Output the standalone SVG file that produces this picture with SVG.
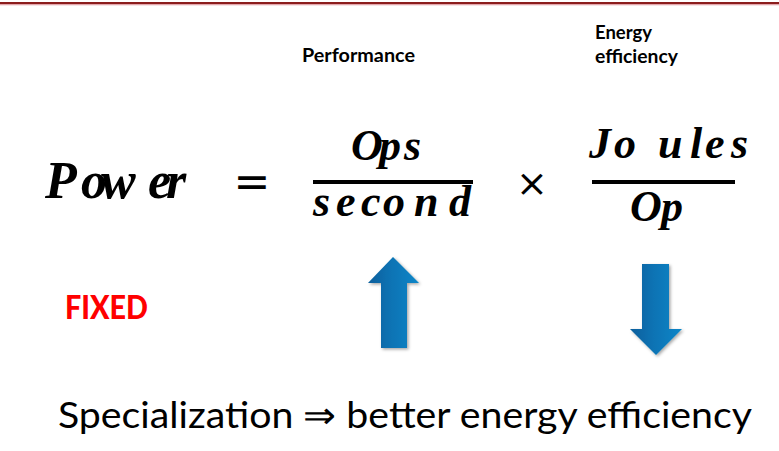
<svg xmlns="http://www.w3.org/2000/svg" width="779" height="451" viewBox="0 0 779 451">
  <style>
    .math { font-family: "Liberation Serif", "Times New Roman", serif; font-weight: bold; font-style: italic; fill: #000; }
    .sym { font-family: "DejaVu Sans", sans-serif; fill: #000; }
    .label { font-family: Lato, "Liberation Sans", sans-serif; font-weight: bold; fill: #000; }
    .bar { fill: #000; }
    .arrow { fill: url(#blueGrad); filter: url(#soft); }
  </style>
  <defs>
    <linearGradient id="blueGrad" x1="0" y1="0" x2="1" y2="0">
      <stop offset="0" stop-color="#0a5f9c"/>
      <stop offset="0.45" stop-color="#0873b4"/>
      <stop offset="1" stop-color="#0a86c8"/>
    </linearGradient>
    <filter id="soft" x="-30%" y="-20%" width="160%" height="140%">
      <feDropShadow dx="1.5" dy="1.5" stdDeviation="1.5" flood-color="#000" flood-opacity="0.35"/>
    </filter>
  </defs>

  <rect width="779" height="451" fill="#fff"/>

  <!-- header rule -->
  <g id="header-rule">
    <rect x="0" y="2" width="779" height="2" fill="#8c1d1d"/>
    <rect x="0" y="4" width="779" height="1.3" fill="#e2a7ad"/>
  </g>

  <!-- captions above the fractions -->
  <g id="caption-performance">
    <text class="label" x="302" y="62" font-size="18" textLength="113" lengthAdjust="spacingAndGlyphs">Performance</text>
  </g>
  <g id="caption-efficiency">
    <text class="label" x="595" y="39" font-size="18" textLength="57" lengthAdjust="spacingAndGlyphs">Energy</text>
    <text class="label" x="595" y="63" font-size="18" textLength="83" lengthAdjust="spacingAndGlyphs">efficiency</text>
  </g>

  <!-- equation: Power = Ops/second x Joules/Op -->
  <g id="lhs-power">
    <text class="math" font-size="52" y="198" x="45 81 101 148 166">Power</text>
  </g>
  <g id="equals">
    <text class="sym" x="252" y="197" font-size="44" text-anchor="middle">=</text>
  </g>
  <g id="fraction-performance">
    <text class="math" font-size="44" y="160" x="351 379 404">Ops</text>
    <rect class="bar" x="313" y="180" width="160" height="4"/>
    <text class="math" font-size="44" y="216" x="313 336 361 383 414 449">second</text>
  </g>
  <g id="times">
    <text class="sym" x="532" y="196" font-size="38" text-anchor="middle">×</text>
  </g>
  <g id="fraction-efficiency">
    <text class="math" font-size="44" y="158" x="589 614 658 690 705 731">Joules</text>
    <rect class="bar" x="592" y="180" width="143" height="4"/>
    <text class="math" font-size="44" y="221" x="630 661">Op</text>
  </g>

  <!-- FIXED marker -->
  <g id="fixed">
    <text x="65" y="319" font-family="Lato, 'Liberation Sans', sans-serif" font-weight="900" font-size="33" fill="#ff0000" textLength="83" lengthAdjust="spacingAndGlyphs">FIXED</text>
  </g>

  <!-- trend arrows -->
  <g id="arrow-up">
    <path class="arrow" d="M393,257 L419,283 L407,283 L407,348 L381,348 L381,283 L368,283 Z"/>
  </g>
  <g id="arrow-down">
    <path class="arrow" d="M642,264 L669,264 L669,329 L682,329 L656,355 L630,329 L642,329 Z"/>
  </g>

  <!-- conclusion -->
  <g id="conclusion">
    <text x="58" y="428" font-family="Lato, 'Liberation Sans', sans-serif" font-size="37" fill="#000" textLength="694" lengthAdjust="spacingAndGlyphs">Specialization ⇒ better energy efficiency</text>
  </g>
</svg>
